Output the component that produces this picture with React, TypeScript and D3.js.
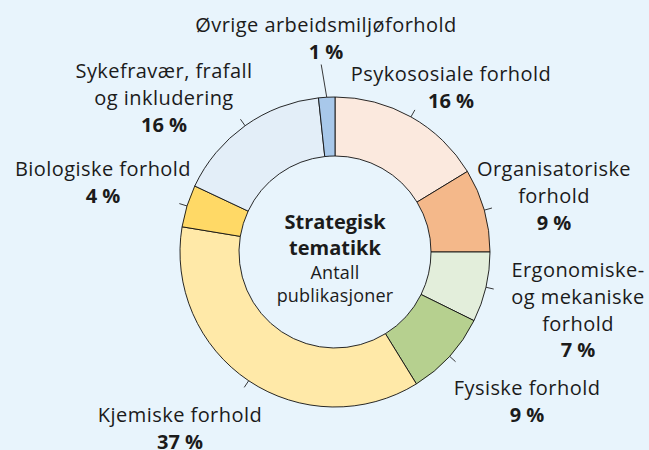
import React, { useRef, useEffect } from "react";
import * as d3 from "d3";

// slices clockwise from 12 o'clock
const categories = [
  "Psykososiale forhold",
  "Organisatoriske forhold",
  "Ergonomiske- og mekaniske forhold",
  "Fysiske forhold",
  "Kjemiske forhold",
  "Biologiske forhold",
  "Sykefravær, frafall og inkludering",
  "Øvrige arbeidsmiljøforhold",
];
const shares = [16.3, 8.7, 7.3, 8.9, 36.4, 4.4, 16.3, 1.7];
const pctLabels = ["16 %", "9 %", "7 %", "9 %", "37 %", "4 %", "16 %", "1 %"];
const labelLines = [
  ["Psykososiale forhold"],
  ["Organisatoriske", "forhold"],
  ["Ergonomiske-", "og mekaniske", "forhold"],
  ["Fysiske forhold"],
  ["Kjemiske forhold"],
  ["Biologiske forhold"],
  ["Sykefravær, frafall", "og inkludering"],
  ["Øvrige arbeidsmiljøforhold"],
];
const colors = [
  "#fbe9de",
  "#f4b88a",
  "#e3eedb",
  "#b6d08f",
  "#ffe9a8",
  "#ffd966",
  "#e3eef8",
  "#a8c8ea",
];
const centerTitle = ["Strategisk", "tematikk"];
const centerSub = ["Antall", "publikasjoner"];

// label anchors (x centre, first baseline)
const labelPos = [
  [451, 81],
  [554, 176],
  [578, 277],
  [527, 395],
  [180, 422],
  [103, 176],
  [164, 78],
  [326, 32],
];

const width = 649;
const height = 450;
const cx = 335;
const cy = 252;
const outerR = 155;
const innerR = 96;
const lineH = 26.8;
const font = "'Open Sans', 'Noto Sans', sans-serif";
const ink = "#1b1b1b";

const App = () => {
  const svgRef = useRef<SVGSVGElement>(null);

  useEffect(() => {
    const svg = d3.select(svgRef.current);
    svg.selectAll("*").remove();

    const rows = categories.map((c, i) => ({ name: c, value: shares[i], i }));
    const pie = d3.pie<any>().sort(null).value((d) => d.value);
    const arcs = pie(rows);
    const arc = d3.arc<any>().innerRadius(innerR).outerRadius(outerR);

    const g = svg.append("g").attr("transform", `translate(${cx},${cy})`);

    g.selectAll("path")
      .data(arcs)
      .join("path")
      .attr("d", arc)
      .attr("fill", (d) => colors[d.data.i])
      .attr("stroke", "#111")
      .attr("stroke-width", 0.9);

    // ticks at slice midpoints, the tiny last slice gets a longer leader
    g.selectAll("line.tick")
      .data(arcs)
      .join("line")
      .attr("class", "tick")
      .each(function (d) {
        const a = (d.startAngle + d.endAngle) / 2;
        const isLast = d.data.i === categories.length - 1;
        const r2 = isLast ? outerR + 33 : outerR + 8;
        const a2 = isLast ? a - 0.02 : a;
        d3.select(this)
          .attr("x1", Math.sin(a) * outerR)
          .attr("y1", -Math.cos(a) * outerR)
          .attr("x2", Math.sin(a2) * r2)
          .attr("y2", -Math.cos(a2) * r2);
      })
      .attr("stroke", "#222")
      .attr("stroke-width", 0.9);

    // labels
    const lab = svg
      .append("g")
      .attr("font-family", font)
      .attr("fill", ink)
      .attr("letter-spacing", 0.45);
    labelLines.forEach((lines, i) => {
      const [x, y] = labelPos[i];
      const t = lab
        .append("text")
        .attr("text-anchor", "middle")
        .attr("font-size", 20);
      lines.forEach((ln, k) => {
        t.append("tspan")
          .attr("x", x)
          .attr("y", y + k * lineH)
          .text(ln);
      });
      t.append("tspan")
        .attr("x", x)
        .attr("y", y + lines.length * lineH + (i === 7 ? 0 : 0))
        .attr("font-weight", 700)
        .attr("letter-spacing", 0)
        .text(pctLabels[i]);
    });

    // centre text
    const ct = svg
      .append("text")
      .attr("font-family", font)
      .attr("fill", ink)
      .attr("text-anchor", "middle");
    centerTitle.forEach((s, k) => {
      ct.append("tspan")
        .attr("x", cx)
        .attr("y", 229 + k * 26)
        .attr("font-size", 20)
        .attr("font-weight", 700)
        .text(s);
    });
    centerSub.forEach((s, k) => {
      ct.append("tspan")
        .attr("x", cx)
        .attr("y", 279 + k * 23)
        .attr("font-size", 18)
        .attr("letter-spacing", 0.2)
        .text(s);
    });
  }, []);

  return (
    <svg
      ref={svgRef}
      width={width}
      height={height}
      style={{ position: "fixed", left: 0, top: 0, backgroundColor: "#e8f4fc" }}
    />
  );
};

export default App;
